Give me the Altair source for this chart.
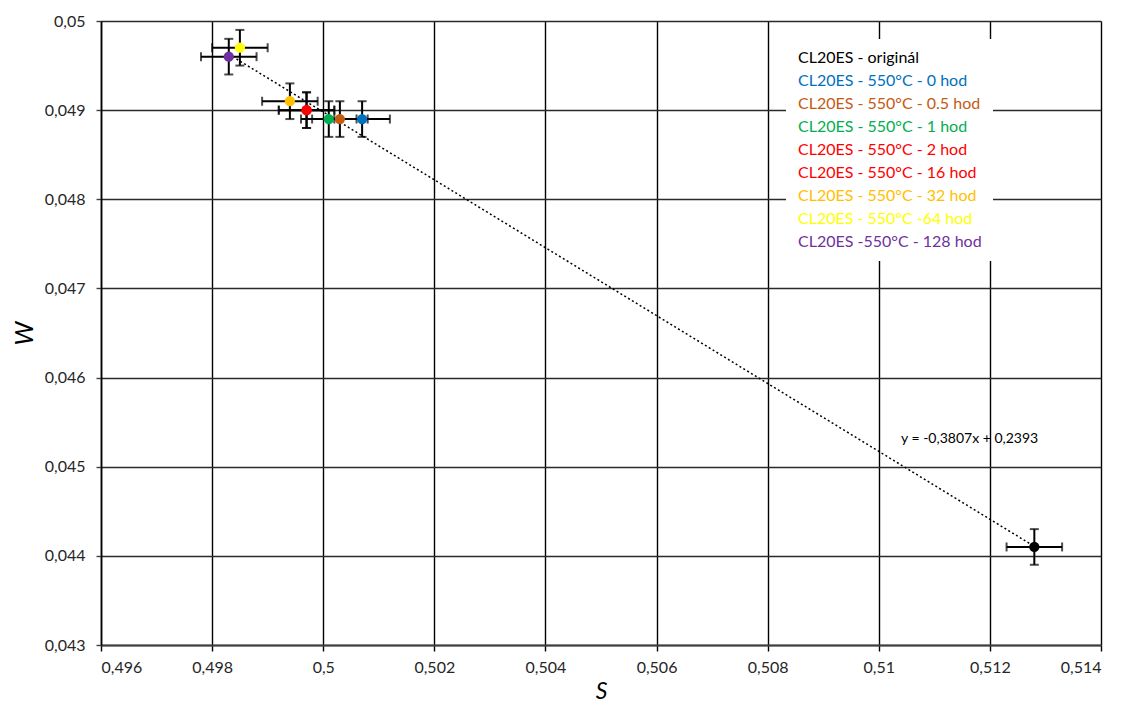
import altair as alt
import pandas as pd

labels = [
    "CL20ES - originál",
    "CL20ES - 550°C - 0 hod",
    "CL20ES - 550°C - 0.5 hod",
    "CL20ES - 550°C - 1 hod",
    "CL20ES - 550°C - 2 hod",
    "CL20ES - 550°C -  16 hod",
    "CL20ES - 550°C - 32 hod",
    "CL20ES - 550°C -64 hod",
    "CL20ES -550°C - 128 hod",
]
colors = ["#000000", "#0070C0", "#C55A11", "#00B050", "#FF0000", "#FF0000",
          "#FFC000", "#FFFF00", "#7030A0"]
s_vals = [0.5128, 0.5007, 0.5003, 0.5001, 0.4997, 0.4997, 0.4994, 0.4985, 0.4983]
w_vals = [0.0441, 0.0489, 0.0489, 0.0489, 0.0490, 0.0490, 0.0491, 0.0497, 0.0496]
s_err = [0.0005, 0.0005, 0.0005, 0.0005, 0.0005, 0.0005, 0.0005, 0.0005, 0.0005]
w_err = [0.0002, 0.0002, 0.0002, 0.0002, 0.0002, 0.0002, 0.0002, 0.0002, 0.0002]

x_ticks = [0.496, 0.498, 0.5, 0.502, 0.504, 0.506, 0.508, 0.51, 0.512, 0.514]
y_ticks = [0.043, 0.044, 0.045, 0.046, 0.047, 0.048, 0.049, 0.05]
equation = "y = -0,3807x + 0,2393"

df = pd.DataFrame({"label": labels, "s": s_vals, "w": w_vals,
                   "se": s_err, "we": w_err})

FONT = "Lato"

xscale = alt.Scale(domain=[0.496, 0.514], nice=False, zero=False)
yscale = alt.Scale(domain=[0.043, 0.05], nice=False, zero=False)

xaxis = alt.Axis(values=x_ticks, format=".3~f",
                 labelExpr="replace(datum.label, '.', ',')",
                 title="S", titleFontStyle="italic", titleFontSize=23,
                 titleFontWeight="normal", titleFont=FONT,
                 titleX=500, titleY=46, titleBaseline="middle",
                 grid=True, gridColor="#000000", gridWidth=1.4,
                 domainColor="#404040", domainWidth=2,
                 tickColor="#000000", tickWidth=1.4, tickSize=6,
                 labelFont=FONT, labelFontSize=16, labelColor="#262626",
                 labelPadding=8)
yaxis = alt.Axis(values=y_ticks, format=".3~f",
                 labelExpr="replace(datum.label, '.', ',')",
                 title="W", titleFontStyle="italic", titleFontSize=25,
                 titleFontWeight="normal", titleFont=FONT,
                 titleX=-77, titleY=312, titleBaseline="middle",
                 titleAngle=-90, titleAlign="center",
                 grid=True, gridColor="#2a2a2a", gridWidth=1.4,
                 domainColor="#000000", domainWidth=1.6,
                 tickColor="#404040", tickWidth=1.4, tickSize=5,
                 labelFont=FONT, labelFontSize=16, labelColor="#262626",
                 labelPadding=11)

base = alt.Chart(df).transform_calculate(
    slo="datum.s - datum.se", shi="datum.s + datum.se",
    wlo="datum.w - datum.we", whi="datum.w + datum.we",
)

color_expr = ("[" + ",".join(f"'{c}'" for c in colors) + "][indexof(["
              + ",".join(f"'{l}'" for l in labels) + "], datum.value)]")

trend = base.mark_line(color="black", strokeWidth=1.5, strokeDash=[2, 2.5]).transform_regression(
    "s", "w").encode(
    x=alt.X("s:Q", scale=xscale, axis=xaxis),
    y=alt.Y("w:Q", scale=yscale, axis=yaxis),
)

hbar = base.mark_rule(color="black", strokeWidth=2).encode(
    x=alt.X("slo:Q", scale=xscale), x2="shi:Q", y=alt.Y("w:Q", scale=yscale))
vbar = base.mark_rule(color="black", strokeWidth=2).encode(
    y=alt.Y("wlo:Q", scale=yscale), y2="whi:Q", x=alt.X("s:Q", scale=xscale))
hcap_l = base.mark_tick(orient="vertical", size=9, thickness=2, color="black").encode(
    x=alt.X("slo:Q", scale=xscale), y=alt.Y("w:Q", scale=yscale))
hcap_r = base.mark_tick(orient="vertical", size=9, thickness=2, color="black").encode(
    x=alt.X("shi:Q", scale=xscale), y=alt.Y("w:Q", scale=yscale))
vcap_b = base.mark_tick(orient="horizontal", size=9, thickness=2, color="black").encode(
    x=alt.X("s:Q", scale=xscale), y=alt.Y("wlo:Q", scale=yscale))
vcap_t = base.mark_tick(orient="horizontal", size=9, thickness=2, color="black").encode(
    x=alt.X("s:Q", scale=xscale), y=alt.Y("whi:Q", scale=yscale))

points = base.mark_circle(size=105, opacity=1).encode(
    x=alt.X("s:Q", scale=xscale),
    y=alt.Y("w:Q", scale=yscale),
    color=alt.Color("label:N", scale=alt.Scale(domain=labels, range=colors),
                    legend=alt.Legend(title=None, orient="none", legendX=685, legendY=18,
                                      fillColor="white", padding=11,
                                      symbolSize=0, symbolStrokeWidth=0, symbolOpacity=0,
                                      labelOffset={"expr": "-15"}, labelFont=FONT, labelFontSize=16,
                                      labelLimit=400, rowPadding=7,
                                      labelColor={"expr": color_expr})),
)

eq = alt.Chart(pd.DataFrame({"t": [equation]})).mark_text(
    align="left", baseline="middle", font=FONT, fontSize=14, color="black").encode(
    x=alt.datum(0.5104, scale=xscale), y=alt.datum(0.04531, scale=yscale), text="t:N")

chart = alt.layer(trend, hbar, vbar, hcap_l, hcap_r, vcap_b, vcap_t, points, eq).properties(
    width=1000, height=624,
    autosize=alt.AutoSizeParams(type="none"),
    padding={"left": 93, "top": 13, "right": 16, "bottom": 60},
).configure_view(stroke=None).configure(background="white")

chart.save("out.html", embed_options={"renderer": "svg", "actions": False})
